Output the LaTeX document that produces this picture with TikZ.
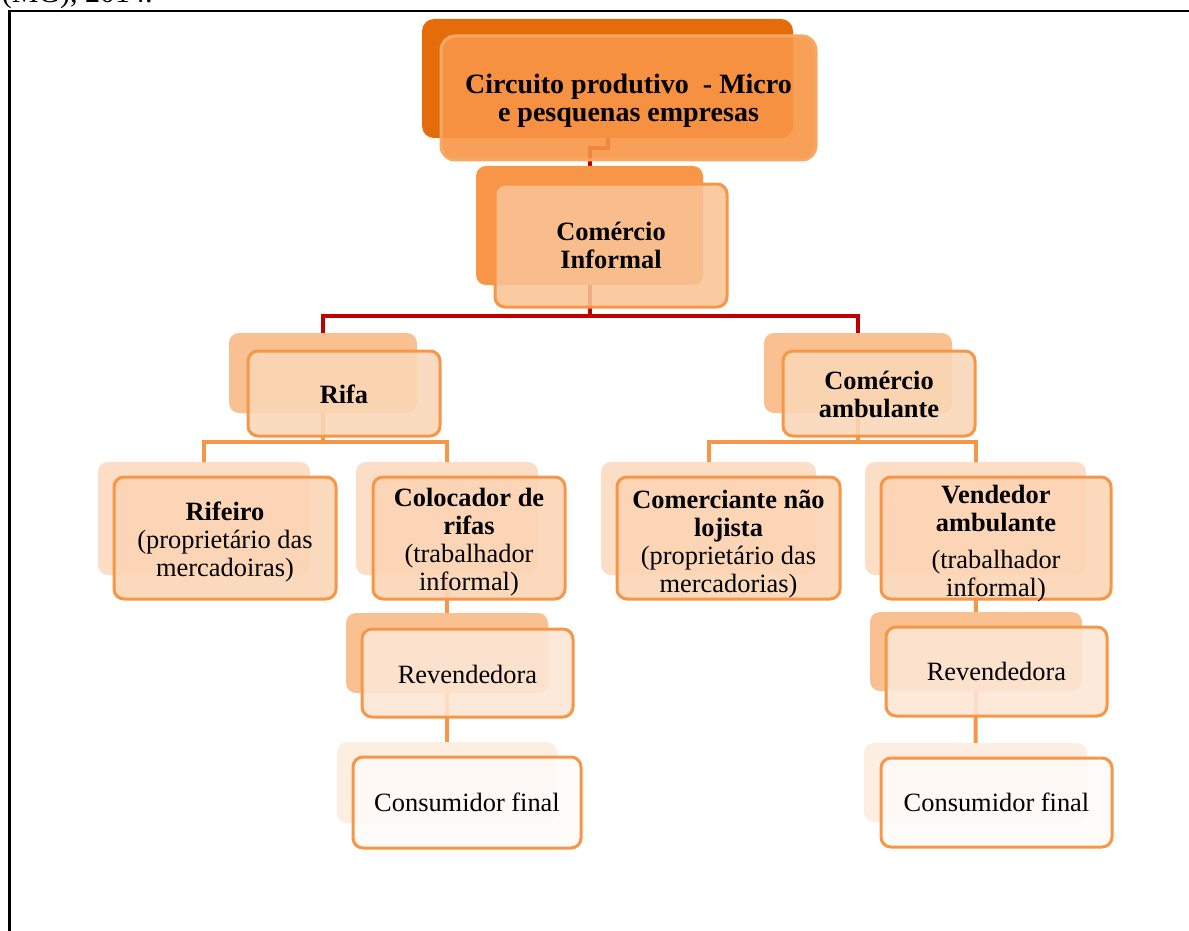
\documentclass[tikz,border=0pt]{standalone}
\usepackage{fontspec}
\setmainfont{Liberation Serif}
\definecolor{acc}{HTML}{F79646}
\definecolor{accdark}{HTML}{E46C0A}
\definecolor{conred}{HTML}{C00000}
\definecolor{topedge}{HTML}{F7A864}
\definecolor{lonefill}{HTML}{F9C394}
\definecolor{ltwoback}{HTML}{F9C192}
\definecolor{ltwofill}{HTML}{FBD6B6}
\definecolor{lthreeback}{HTML}{FCDDC6}
\definecolor{lthreefill}{HTML}{FBD5B5}
\definecolor{revback}{HTML}{F9C192}
\definecolor{revfill}{HTML}{FDE6D5}
\definecolor{conback}{HTML}{FDEEE2}
\definecolor{confill}{HTML}{FFFBF8}
\pgfdeclarelayer{bg}
\pgfsetlayers{bg,main}
\newcommand{\bbox}[7]{\node[#1,minimum width={(#5-#3)*0.5pt},minimum height={(#6-#4)*0.5pt}] (#2) at ({(#3+#5)/2},{(#4+#6)/2}) {#7};}
\newcommand{\tbox}[8]{\bbox{#1}{#2}{#3}{#4}{#5}{#6}{}%
  \node[#1,draw=none,fill=none,minimum width=0pt,minimum height=0pt,yshift={-(#8)*0.5pt}] (#2-t) at (#2.center) {#7};}
\begin{document}
\begin{tikzpicture}[x=0.5pt,y=-0.5pt,
  redline/.style={draw=conred,line width=2pt},
  orline/.style={draw=acc,line width=2pt},
  bx/.style={rounded corners=5pt,inner sep=0pt,outer sep=0pt,align=center,font=\fontsize{13.2}{14}\selectfont},
  topback/.style={bx,fill=accdark,rounded corners=6pt},
  topfront/.style={bx,fill=acc,fill opacity=0.9,text opacity=1,draw=topedge,line width=1.5pt,rounded corners=7pt,font=\bfseries\fontsize{14}{14}\selectfont},
  loneback/.style={bx,fill=acc},
  lonefront/.style={bx,fill=lonefill,fill opacity=0.88,text opacity=1,draw=acc,line width=1.5pt,font=\bfseries\fontsize{13.2}{13.6}\selectfont},
  ltwoback/.style={bx,fill=ltwoback},
  ltwofront/.style={bx,fill=ltwofill,fill opacity=0.88,text opacity=1,draw=acc,line width=1.5pt,font=\bfseries\fontsize{13.2}{13.6}\selectfont},
  lthreeback/.style={bx,fill=lthreeback},
  lthreefront/.style={bx,fill=lthreefill,fill opacity=0.9,text opacity=1,draw=acc,line width=1.5pt},
  revbackst/.style={bx,fill=revback},
  revfront/.style={bx,fill=revfill,fill opacity=0.88,text opacity=1,draw=acc,line width=1.5pt},
  conbackst/.style={bx,fill=conback},
  confront/.style={bx,fill=confill,fill opacity=0.9,text opacity=1,draw=acc,line width=1.5pt}
]
\useasboundingbox (0,0) rectangle (1189,931);
\clip (0,0) rectangle (1189,931);
% frame
\draw[line width=1.1pt] (9.5,1000) -- (9.5,10.7) -- (1300,10.7);
\node[anchor=base east,inner sep=0pt,font=\fontsize{15}{15}\selectfont] (hdr) at (153,2.5) {(MG), 2014.};
% back boxes
\bbox{topback}{topb}{422}{19}{793}{138}{}
\bbox{loneback}{comb}{476}{166}{703}{285}{}
\bbox{ltwoback}{rifab}{229}{333}{417}{413}{}
\bbox{ltwoback}{ambb}{764}{333}{952}{413}{}
\bbox{lthreeback}{rifeirob}{98}{462}{310}{575}{}
\bbox{lthreeback}{colocb}{356}{462}{538}{575}{}
\bbox{lthreeback}{comerb}{601}{462}{816}{575}{}
\bbox{lthreeback}{vendb}{865}{462}{1086}{575}{}
\bbox{revbackst}{revlb}{346}{613}{548}{693}{}
\bbox{revbackst}{revrb}{870}{612}{1082}{691}{}
\bbox{conbackst}{conlb}{337}{742}{557}{823}{}
\bbox{conbackst}{conrb}{864}{743}{1087}{822}{}
% front boxes
\tbox{topfront}{top}{441}{36}{816}{160}{Circuito produtivo\ \ - Micro\\e pesquenas empresas}{3}
\tbox{lonefront}{com}{495}{184}{727}{307}{Comércio\\Informal}{0}
\tbox{ltwofront}{rifa}{248}{351}{440}{436}{Rifa}{1}
\tbox{ltwofront}{amb}{783}{351}{975}{436}{Comércio\\ambulante}{1}
\tbox{lthreefront}{rifeiro}{114}{477}{336}{599}{\textbf{Rifeiro}\\(proprietário das\\mercadoiras)}{4}
\tbox{lthreefront}{coloc}{373}{477}{565}{599}{\textbf{Colocador de}\\\textbf{rifas}\\(trabalhador\\informal)}{4}
\tbox{lthreefront}{comer}{617}{477}{840}{599}{\textbf{Comerciante não}\\\textbf{lojista}\\(proprietário das\\mercadorias)}{6}
\tbox{lthreefront}{vend}{881}{477}{1111}{599}{\textbf{Vendedor}\\\textbf{ambulante}\\[4.5pt](trabalhador\\informal)}{6}
\tbox{revfront}{revl}{362}{629}{573}{717}{Revendedora}{1}
\tbox{revfront}{revr}{886}{627}{1107}{716}{Revendedora}{0}
\tbox{confront}{conl}{353}{757}{581}{848}{Consumidor final}{0}
\tbox{confront}{conr}{881}{758}{1112}{847}{Consumidor final}{0}
% connectors
\begin{pgfonlayer}{bg}
\draw[redline] (topb.south) -- ++(0,10) -| (comb.north);
\draw[redline] (comb.south) -- ++(0,31) -| (rifab.north);
\draw[redline] (comb.south) -- ++(0,31) -| (ambb.north);
\draw[orline] (rifab.south) -- ++(0,29) -| (rifeirob.north);
\draw[orline] (rifab.south) -- ++(0,29) -| (colocb.north);
\draw[orline] (ambb.south) -- ++(0,29) -| (comerb.north);
\draw[orline] (ambb.south) -- ++(0,29) -| (vendb.north);
\draw[orline] (colocb.south) -- (revlb.north);
\draw[orline] (revlb.south) -- (conlb.north);
\draw[orline] (vendb.south) -- (revrb.north);
\draw[orline] (revrb.south) -- (conrb.north);
\end{pgfonlayer}
\end{tikzpicture}
\end{document}
